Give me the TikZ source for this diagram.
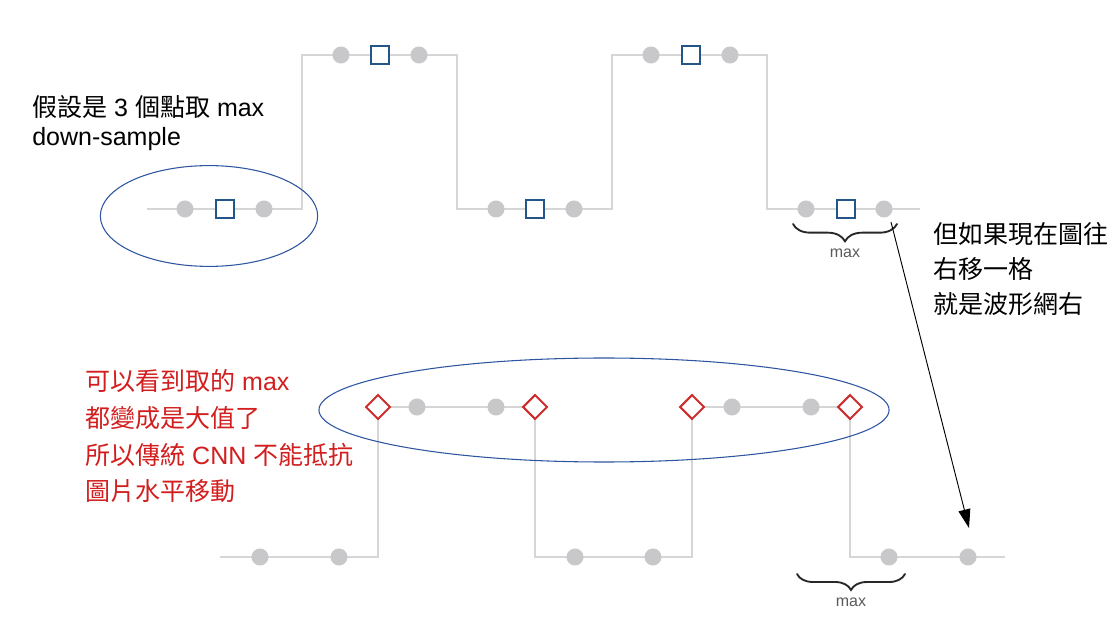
\documentclass[tikz,border=0pt]{standalone}
\usepackage{fontspec}
\setmainfont{Liberation Sans}
\newfontfamily\zhfont{Noto Sans CJK TC}
\newcommand\zh[1]{{\zhfont #1}}
\usetikzlibrary{decorations.pathreplacing,arrows.meta,shapes.geometric}
\definecolor{wave}{RGB}{214,214,214}
\definecolor{dotc}{RGB}{200,200,202}
\definecolor{sqb}{RGB}{35,85,135}
\definecolor{dia}{RGB}{205,45,45}
\definecolor{ell}{RGB}{45,85,160}
\definecolor{redt}{RGB}{210,30,30}
\definecolor{maxc}{RGB}{90,90,90}
\definecolor{brc}{RGB}{40,40,40}
\begin{document}
\begin{tikzpicture}[x=0.75pt,y=-0.75pt,
  wl/.style={draw=wave,line width=1.6pt},
  dot/.style={circle,fill=dotc,minimum size=12.8pt,inner sep=0pt},
  sq/.style={rectangle,draw=sqb,line width=1.9pt,fill=white,minimum size=13.2pt,inner sep=0pt},
  dm/.style={diamond,draw=dia,line width=1.5pt,fill=white,minimum size=18.5pt,inner sep=0pt},
  ell/.style={draw=ell,line width=0.8pt},
  txt/.style={anchor=base west,inner sep=0pt,font=\fontsize{18.75}{24}\selectfont},
  maxl/.style={inner sep=0pt,text=maxc,font=\fontsize{12}{14}\selectfont},
  br/.style={draw=brc,line width=1.4pt,line cap=round,decorate},
]
\useasboundingbox (0,0) rectangle (1118,620);

% ---- top waveform ----
\draw[wl] (147,209) -- (302,209) -- (302,55) -- (457,55) -- (457,209) -- (612,209)
  -- (612,55) -- (767,55) -- (767,209) -- (920,209);
\node[dot] (t1) at (185,209) {};
\node[sq]  (t2) at (225,209) {};
\node[dot] (t3) at (264,209) {};
\node[dot] (t4) at (341,55) {};
\node[sq]  (t5) at (380,55) {};
\node[dot] (t6) at (419,55) {};
\node[dot] (t7) at (496,209) {};
\node[sq]  (t8) at (535,209) {};
\node[dot] (t9) at (574,209) {};
\node[dot] (t10) at (651,55) {};
\node[sq]  (t11) at (691,55) {};
\node[dot] (t12) at (730,55) {};
\node[dot] (t13) at (806,209) {};
\node[sq]  (t14) at (846,209) {};
\node[dot] (t15) at (884,209) {};

\coordinate (tbr) at (897,224);
\coordinate (tbl) at (793,224);
\draw[br,decoration={brace,amplitude=13pt}] (tbr) -- (tbl);
\node[maxl] (tmax) at (845,253) {max};

% ---- bottom waveform ----
\draw[wl] (220,557) -- (378,557) -- (378,407) -- (535,407) -- (535,557) -- (692,557)
  -- (692,407) -- (850,407) -- (850,557) -- (1005,557);
\node[dot] (b1) at (260,557) {};
\node[dot] (b2) at (339,557) {};
\node[dm]  (b3) at (378,407) {};
\node[dot] (b4) at (417,407) {};
\node[dot] (b5) at (496,407) {};
\node[dm]  (b6) at (535,407) {};
\node[dot] (b7) at (575,557) {};
\node[dot] (b8) at (653,557) {};
\node[dm]  (b9) at (692,407) {};
\node[dot] (b10) at (732,407) {};
\node[dot] (b11) at (811,407) {};
\node[dm]  (b12) at (850,407) {};
\node[dot] (b13) at (889,557) {};
\node[dot] (b14) at (968,557) {};

\coordinate (bbr) at (905,574);
\coordinate (bbl) at (797,574);
\draw[br,decoration={brace,amplitude=12pt}] (bbr) -- (bbl);
\node[maxl] (bmax) at (851,602) {max};

% ---- ellipses ----
\draw[ell] (209,216) ellipse [x radius=81.5pt, y radius=37.8pt];
\draw[ell] (604,410) ellipse [x radius=213.8pt, y radius=39pt];

% ---- arrow ----
\coordinate (a0) at (891,222);
\coordinate (a1) at (969,528);
\draw[line width=0.7pt,-{Triangle[length=14pt,width=9pt]}] (a0) -- (a1);

% ---- texts ----
\node[txt] (l1) at (32,117) {\zh{假設是} 3 \zh{個點取} max};
\node[txt] (l2) at (32,146) {down-sample};

\node[txt] (r1) at (933,244) {\zh{但如果現在圖往}};
\node[txt] (r2) at (933,279) {\zh{右移一格}};
\node[txt] (r3) at (933,314) {\zh{就是波形網右}};

\node[txt,text=redt] (c1) at (85,391) {\zh{可以看到取的} max};
\node[txt,text=redt] (c2) at (85,427) {\zh{都變成是大值了}};
\node[txt,text=redt] (c3) at (85,464) {\zh{所以傳統} CNN \zh{不能抵抗}};
\node[txt,text=redt] (c4) at (85,500) {\zh{圖片水平移動}};
\end{tikzpicture}
\end{document}
